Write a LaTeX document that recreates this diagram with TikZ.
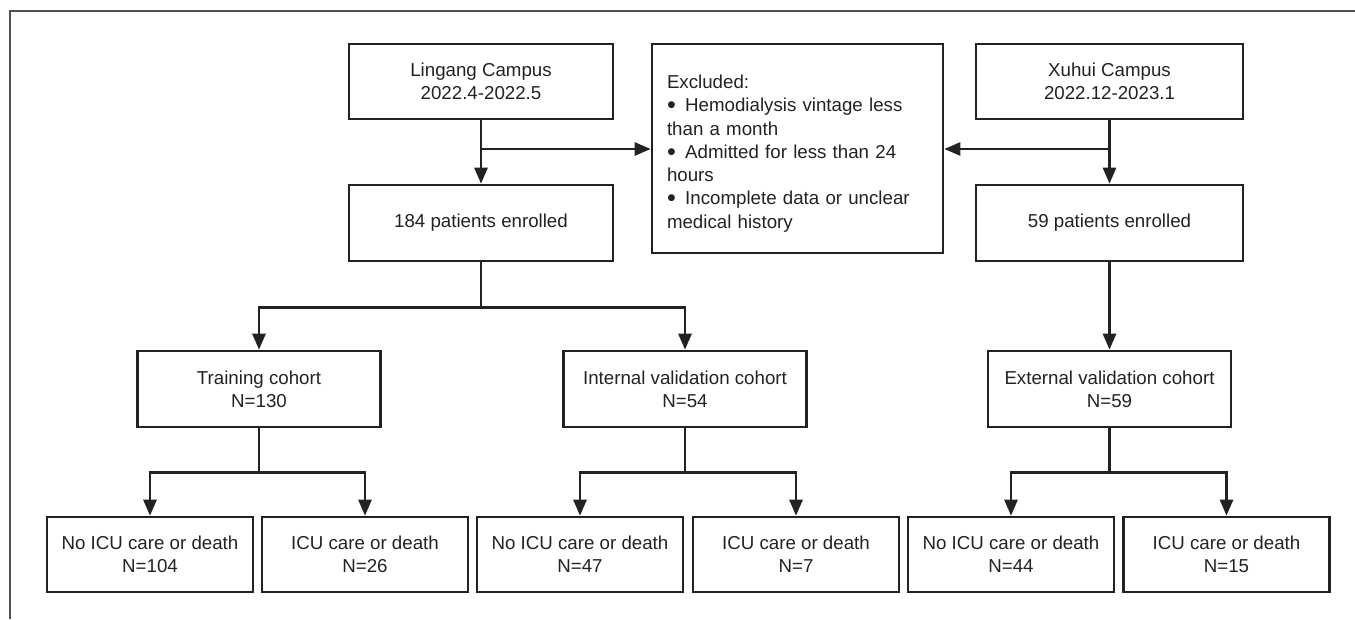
\documentclass[tikz,border=0pt]{standalone}
\usepackage{fontspec}
\setmainfont{Liberation Sans}
\usetikzlibrary{arrows.meta,calc}
\definecolor{ink}{HTML}{222222}
\definecolor{framec}{HTML}{505050}
\newcommand{\bigbul}{\raisebox{-0.1em}{\scalebox{1.35}{\textbullet}}\hspace{0.5em}}
\begin{document}
\begin{tikzpicture}[x=1pt,y=-1pt,
  box/.style={draw=ink,line width=2.6pt,text=ink,align=center,inner sep=0pt,
    font=\fontsize{18.7}{23.3}\selectfont},
  topbox/.style={box,minimum width=264pt,minimum height=75pt},
  midbox/.style={box,minimum width=243pt,minimum height=76pt},
  leafbox/.style={box,minimum width=206pt,minimum height=75pt},
  plaintext/.style={text=ink,inner sep=0pt,font=\fontsize{18.7}{23.3}\selectfont},
  conn/.style={draw=ink,line width=2.6pt},
  arr/.style={conn,-{Triangle[length=16pt,width=13pt]}}]
\useasboundingbox (0,0) rectangle (1355,619);
\draw[framec,line width=2pt] (1355,11) -- (10,11) -- (10,619);

\node[topbox] (ling) at (481,81.5) {Lingang Campus\\2022.4-2022.5};
\node[topbox,minimum width=267pt] (xuhui) at (1109.5,81.5) {Xuhui Campus\\2022.12-2023.1};
\node[box,minimum width=291pt,minimum height=209pt] (excl) at (797.5,148.5) {};
\node[plaintext,align=left,text width=261pt] (excltext) at ([yshift=-5pt]excl.center)
  {Excluded:\\
   \bigbul Hemodialysis vintage less\\
   than a month\\
   \bigbul Admitted for less than 24\\
   hours\\
   \bigbul Incomplete data or unclear\\
   medical history};
\node[topbox,minimum height=76pt] (p184) at (481,223) {184 patients enrolled};
\node[topbox,minimum width=267pt,minimum height=76pt] (p59) at (1109.5,223) {59 patients enrolled};

\node[midbox] (train) at (259,389) {Training cohort\\N=130};
\node[midbox] (intv) at (685,389) {Internal validation cohort\\N=54};
\node[midbox] (extv) at (1109.5,389) {External validation cohort\\N=59};

\node[leafbox] (a1) at (150,554.5) {No ICU care or death\\N=104};
\node[leafbox] (a2) at (365,554.5) {ICU care or death\\N=26};
\node[leafbox] (b1) at (580,554.5) {No ICU care or death\\N=47};
\node[leafbox] (b2) at (796,554.5) {ICU care or death\\N=7};
\node[leafbox] (c1) at (1011,554.5) {No ICU care or death\\N=44};
\node[leafbox] (c2) at (1226.5,554.5) {ICU care or death\\N=15};

% top part
\draw[arr] (ling.south) -- (p184.north);
\coordinate (j1) at (481,149);
\draw[arr] (j1) -- (j1 -| excl.west);
\draw[arr] (xuhui.south) -- (p59.north);
\coordinate (j2) at (1109.5,149);
\draw[arr] (j2) -- (j2 -| excl.east);

% 184 split
\draw[conn] (p184.south) -- ++(0,45) coordinate (s1);
\draw[arr] (s1) -| (train.north);
\draw[arr] (s1) -| (intv.north);

% 59 -> external
\draw[arr] (p59.south) -- (extv.north);

% leaf splits
\draw[conn] (train.south) -- ++(0,44) coordinate (s2);
\draw[arr] (s2) -| (a1.north);
\draw[arr] (s2) -| (a2.north);
\draw[conn] (intv.south) -- ++(0,44) coordinate (s3);
\draw[arr] (s3) -| (b1.north);
\draw[arr] (s3) -| (b2.north);
\draw[conn] (extv.south) -- ++(0,44) coordinate (s4);
\draw[arr] (s4) -| (c1.north);
\draw[arr] (s4) -| (c2.north);
\end{tikzpicture}
\end{document}
